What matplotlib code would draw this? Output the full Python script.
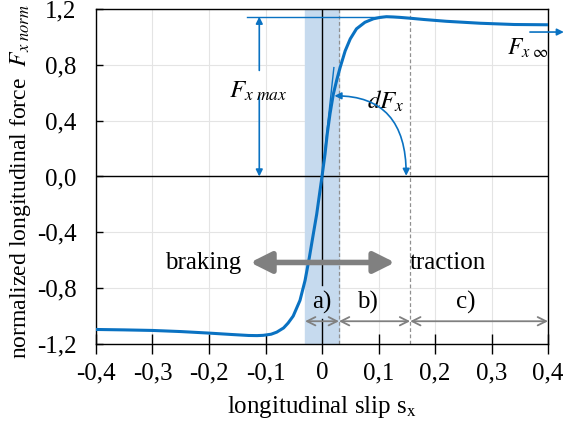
import matplotlib
matplotlib.use("Agg")
import matplotlib.pyplot as plt
from matplotlib.patches import FancyArrowPatch

plt.rcParams['font.family'] = ['Liberation Serif', 'DejaVu Serif']
plt.rcParams['mathtext.fontset'] = 'stix'
plt.rcParams['font.size'] = 18

# data
slip = [-0.40, -0.35, -0.30, -0.25, -0.20, -0.16, -0.13, -0.115, -0.104, -0.09, -0.08, -0.068,
        -0.06, -0.051, -0.039, -0.030, -0.0224, -0.0153, -0.0094, -0.0035, 0.0, 0.0053,
        0.0094, 0.0142, 0.020, 0.026, 0.032, 0.041, 0.050, 0.061, 0.076, 0.091, 0.103,
        0.114, 0.126, 0.138, 0.156, 0.18, 0.22, 0.28, 0.34, 0.40]
force = [-1.096, -1.099, -1.103, -1.111, -1.122, -1.132, -1.139, -1.140, -1.138, -1.130,
         -1.115, -1.085, -1.050, -1.000, -0.888, -0.745, -0.580, -0.410, -0.270, -0.100,
         0.0, 0.16, 0.31, 0.45, 0.59, 0.69, 0.78, 0.90, 0.986, 1.058, 1.105, 1.130, 1.140,
         1.145, 1.143, 1.140, 1.134, 1.125, 1.112, 1.098, 1.089, 1.087]

xticks = [-0.4, -0.3, -0.2, -0.1, 0.0, 0.1, 0.2, 0.3, 0.4]
xticklabels = ['-0,4', '-0,3', '-0,2', '-0,1', '0', '0,1', '0,2', '0,3', '0,4']
yticks = [-1.2, -0.8, -0.4, 0.0, 0.4, 0.8, 1.2]
yticklabels = ['-1,2', '-0,8', '-0,4', '0,0', '0,4', '0,8', '1,2']

band = (-0.03, 0.03)
region_bounds = [-0.03, 0.03, 0.156, 0.4]
region_labels = ['a)', 'b)', 'c)']
region_label_x = [0.0, 0.080, 0.255]
fx_max = 1.145

blue = '#0A72C2'
gray = '#808080'

fig = plt.figure(figsize=(5.63, 4.23), dpi=100)
ax = fig.add_axes([0.1705, 0.1868, 0.8029, 0.7919])
ax.set_xlim(-0.4, 0.4)
ax.set_ylim(-1.2, 1.2)
ax.set_xticks(xticks)
ax.set_xticklabels(xticklabels)
ax.set_yticks(yticks)
ax.set_yticklabels(yticklabels)
ax.grid(True, color='#E4E4E4', lw=0.8)
ax.set_axisbelow(True)
ax.tick_params(axis='y', direction='in', length=5, width=1, pad=14)
ax.tick_params(axis='x', direction='inout', length=14, width=1, pad=6)
for sp in ax.spines.values():
    sp.set_linewidth(1.0)
    sp.set_color('black')

ax.axvspan(band[0], band[1], color='#C6DAEE', zorder=1)
ax.axhline(0, color='black', lw=1, zorder=2)
ax.plot([0, 0], [1.2, -0.78], color='black', lw=1, zorder=2)
ax.plot([0, 0], [-1.02, -1.2], color='black', lw=1, zorder=2)
for xv in region_bounds[1:3]:
    ax.axvline(xv, color='#909090', lw=0.9, ls=(0, (3, 2)), zorder=2)

# curve
ax.plot(slip, force, color=blue, lw=2.2, zorder=5, solid_joinstyle='round')

# tangent lines
ax.plot([0, 0.021], [0, 0.78], color=blue, lw=1, zorder=4)
ax.plot([-0.133, 0.105], [fx_max, fx_max], color=blue, lw=1, zorder=4)

# Fx max arrows
ax.annotate('', xy=(-0.111, fx_max), xytext=(-0.111, 0.76),
            arrowprops=dict(arrowstyle='-|>', color=blue, lw=1.2, mutation_scale=10, shrinkA=0, shrinkB=0))
ax.annotate('', xy=(-0.111, 0.0), xytext=(-0.111, 0.57),
            arrowprops=dict(arrowstyle='-|>', color=blue, lw=1.2, mutation_scale=10, shrinkA=0, shrinkB=0))
ax.text(-0.113, 0.61, r'$F_{x\ max}$', ha='center', va='center', fontsize=18)

# dFx curved arrow
arc = FancyArrowPatch((0.022, 0.578), (0.149, 0.005), arrowstyle='<|-|>', mutation_scale=10,
                      connectionstyle='angle3,angleA=0,angleB=90', color=blue, lw=1.2,
                      shrinkA=0, shrinkB=0, zorder=6)
ax.add_patch(arc)
ax.text(0.113, 0.54, r'$dF_x$', ha='center', va='center', fontsize=18)

# Fx inf
ax.annotate('', xy=(0.428, 1.035), xytext=(0.368, 1.035),
            arrowprops=dict(arrowstyle='-|>', color=blue, lw=1.2, mutation_scale=10, shrinkA=0, shrinkB=0),
            annotation_clip=False)
ax.text(0.364, 0.92, r'$F_{x\ \infty}$', ha='center', va='center', fontsize=17)

# braking / traction
ax.annotate('', xy=(-0.127, -0.616), xytext=(0.129, -0.616),
            arrowprops=dict(arrowstyle='<|-|>,head_length=0.9,head_width=0.45', color=gray, lw=4,
                            mutation_scale=14, shrinkA=0, shrinkB=0), zorder=6)
ax.text(-0.21, -0.62, 'braking', ha='center', va='center', fontsize=18)
ax.text(0.222, -0.62, 'traction', ha='center', va='center', fontsize=18)

# regions
for i in range(3):
    ax.annotate('', xy=(region_bounds[i], -1.037), xytext=(region_bounds[i + 1], -1.037),
                arrowprops=dict(arrowstyle='<->,head_length=0.5,head_width=0.25', color=gray, lw=1.3,
                                mutation_scale=12, shrinkA=0, shrinkB=0), zorder=6)
    ax.text(region_label_x[i], -0.90, region_labels[i], ha='center', va='center', fontsize=18)

ax.set_xlabel(r'longitudinal slip s$_\mathrm{x}$', fontsize=18, labelpad=7)
ax.set_ylabel(r'normalized longitudinal force  $F_{x\ norm}$', fontsize=17)
ax.yaxis.set_label_coords(-0.139, 0.484)

fig.savefig('out.png', dpi=100)
